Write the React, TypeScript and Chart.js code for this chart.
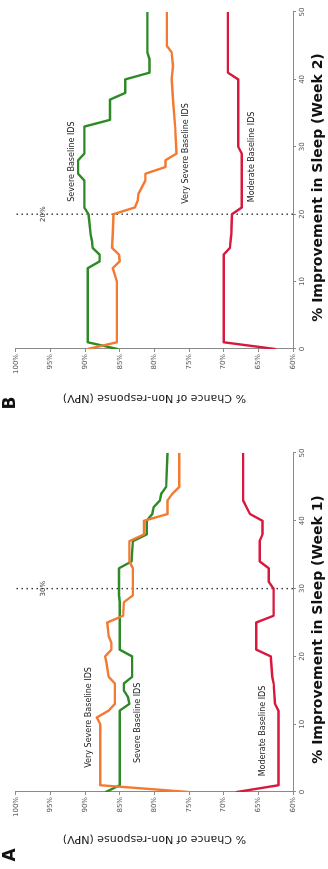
import React, { useEffect, useRef } from "react";
import { Chart, registerables } from "chart.js";

Chart.register(...registerables);

const FONT = "'DejaVu Sans', 'Liberation Sans', sans-serif";

// ---------- shared ----------
const X_TICKS = [0, 10, 20, 30, 40, 50];
const Y_TICKS = [60, 65, 70, 75, 80, 85, 90, 95, 100];
const SERIES_NAMES = ["Very Severe Baseline IDS", "Severe Baseline IDS", "Moderate Baseline IDS"];
const SERIES_COLORS = ["#f47a32", "#2d8a26", "#d9183d"];
const Y_TITLE = "% Chance of Non-response (NPV)";
const CUTOFF_LABEL_Y = 96;

// ---------- panel A (Week 1) ----------
const A_LETTER = "A";
const A_X_TITLE = "% Improvement in Sleep (Week 1)";
const A_CUTOFF = 30;
const A_CUTOFF_LABEL = "30%";
const A_VS_X = [0, 1, 10, 11, 12, 13, 16, 17, 19, 20, 21, 22, 23, 25, 26, 28, 29, 33, 34, 37, 38, 40, 41, 43, 44, 45, 50];
const A_VS_Y = [75.0, 87.8, 87.8, 88.3, 86.6, 85.7, 85.7, 86.6, 86.9, 87.1, 86.2, 86.2, 86.6, 86.8, 84.5, 84.4, 83.1, 83.1, 83.6, 83.6, 81.5, 81.5, 78.1, 78.1, 77.4, 76.4, 76.4];
const A_S_X = [0, 1, 12, 13, 14, 15, 16, 17, 20, 21, 28, 29, 33, 34, 37, 38, 40, 41, 42, 43, 44, 45, 50];
const A_S_Y = [87.0, 85.0, 85.0, 83.6, 83.8, 84.4, 84.4, 83.2, 83.2, 85.0, 85.0, 85.1, 85.1, 83.3, 83.1, 81.1, 81.1, 80.3, 80.1, 79.2, 79.0, 78.3, 78.1];
const A_M_X = [0, 1, 12, 13, 16, 17, 20, 21, 25, 26, 30, 31, 33, 34, 37, 38, 40, 41, 42, 43, 50];
const A_M_Y = [68.1, 62.1, 62.1, 62.6, 62.8, 63.0, 63.2, 65.3, 65.3, 62.8, 62.8, 63.5, 63.5, 64.8, 64.8, 64.4, 64.4, 66.2, 66.7, 67.2, 67.2];
const A_LABEL_X = [11.0, 10.2, 9.0];
const A_LABEL_Y = [89.5, 82.3, 64.4];

// ---------- panel B (Week 2) ----------
const B_LETTER = "B";
const B_X_TITLE = "% Improvement in Sleep (Week 2)";
const B_CUTOFF = 20;
const B_CUTOFF_LABEL = "20%";
const B_VS_X = [0, 1, 10, 11, 12, 13, 14, 15, 17, 20, 21, 22, 23, 25, 26, 27, 28, 29, 33, 37, 40, 42, 44, 45, 50];
const B_VS_Y = [89.6, 85.4, 85.4, 85.7, 86.0, 85.0, 85.1, 86.1, 86.0, 85.9, 82.8, 82.4, 82.3, 81.3, 81.3, 78.4, 78.4, 76.8, 77.0, 77.3, 77.5, 77.3, 77.5, 78.2, 78.2];
const B_S_X = [0, 1, 12, 13, 14, 15, 16, 17, 19, 20, 21, 25, 26, 28, 29, 33, 34, 37, 38, 40, 41, 43, 44, 50];
const B_S_Y = [85.3, 89.6, 89.6, 87.9, 87.9, 88.9, 89.0, 89.2, 89.4, 89.5, 90.1, 90.1, 91.0, 91.0, 90.1, 90.1, 86.4, 86.4, 84.2, 84.2, 80.7, 80.7, 81.0, 81.0];
const B_M_X = [0, 1, 14, 15, 17, 20, 21, 29, 30, 40, 41, 50];
const B_M_Y = [62.6, 70.0, 70.0, 69.1, 68.9, 68.8, 67.4, 67.4, 67.9, 67.9, 69.4, 69.4];
const B_LABEL_X = [29.0, 27.8, 28.5];
const B_LABEL_Y = [75.5, 91.9, 65.9];

type PanelDef = {
  letter: string;
  xTitle: string;
  cutoff: number;
  cutoffLabel: string;
  xs: number[][];
  ys: number[][];
  labelX: number[];
  labelY: number[];
};

const PANEL_A: PanelDef = {
  letter: A_LETTER,
  xTitle: A_X_TITLE,
  cutoff: A_CUTOFF,
  cutoffLabel: A_CUTOFF_LABEL,
  xs: [A_VS_X, A_S_X, A_M_X],
  ys: [A_VS_Y, A_S_Y, A_M_Y],
  labelX: A_LABEL_X,
  labelY: A_LABEL_Y,
};

const PANEL_B: PanelDef = {
  letter: B_LETTER,
  xTitle: B_X_TITLE,
  cutoff: B_CUTOFF,
  cutoffLabel: B_CUTOFF_LABEL,
  xs: [B_VS_X, B_S_X, B_M_X],
  ys: [B_VS_Y, B_S_Y, B_M_Y],
  labelX: B_LABEL_X,
  labelY: B_LABEL_Y,
};

type Layout = {
  width: number;
  height: number;
  left: number;
  right: number;
  top: number;
  bottom: number;
  yTitleDx: number;
  letterDx: number;
};

function Panel({ def, lay }: { def: PanelDef; lay: Layout }) {
  const ref = useRef<HTMLCanvasElement | null>(null);

  useEffect(() => {
    if (!ref.current) return;
    const datasets: any[] = def.xs.map((xs, i) => ({
      label: SERIES_NAMES[i],
      data: xs.map((x, j) => ({ x, y: def.ys[i][j] })),
      borderColor: SERIES_COLORS[i],
      backgroundColor: SERIES_COLORS[i],
      borderWidth: 2.4,
      pointRadius: 0,
      tension: 0,
      borderJoinStyle: "round",
      borderCapStyle: "round",
      fill: false,
    }));
    datasets.push({
      label: "cutoff",
      data: [
        { x: def.cutoff, y: Y_TICKS[0] },
        { x: def.cutoff, y: Y_TICKS[Y_TICKS.length - 1] },
      ],
      borderColor: "#333",
      borderWidth: 1.4,
      borderDash: [1.4, 3.6],
      pointRadius: 0,
      fill: false,
    });

    const textPlugin = {
      id: "panelTexts",
      afterDraw(chart: any) {
        const { ctx, chartArea } = chart;
        const xs = chart.scales.x;
        const ys = chart.scales.y;
        ctx.save();
        ctx.fillStyle = "#222";
        ctx.textAlign = "center";
        ctx.textBaseline = "middle";
        ctx.font = `8px ${FONT}`;
        SERIES_NAMES.forEach((name, i) => {
          ctx.fillText(name, xs.getPixelForValue(def.labelX[i]), ys.getPixelForValue(def.labelY[i]));
        });
        ctx.font = `7px ${FONT}`;
        ctx.fillStyle = "#333";
        ctx.fillText(def.cutoffLabel, xs.getPixelForValue(def.cutoff), ys.getPixelForValue(CUTOFF_LABEL_Y));
        // x title
        ctx.fillStyle = "#111";
        ctx.font = `bold 14px ${FONT}`;
        ctx.fillText(def.xTitle, (chartArea.left + chartArea.right) / 2 - 7, chartArea.bottom + 25);
        // panel letter
        ctx.font = `bold 17px ${FONT}`;
        ctx.fillText(def.letter, chartArea.left + lay.letterDx, 11);
        // y title
        ctx.translate(chartArea.left + lay.yTitleDx, (chartArea.top + chartArea.bottom) / 2);
        ctx.rotate(-Math.PI / 2);
        ctx.font = `11px ${FONT}`;
        ctx.fillStyle = "#1a1a1a";
        ctx.fillText(Y_TITLE, 0, 0);
        ctx.restore();
      },
    };

    const chart = new Chart(ref.current, {
      type: "line",
      data: { datasets },
      plugins: [textPlugin],
      options: {
        responsive: false,
        animation: false,
        events: [],
        layout: {
          padding: { left: 0, top: lay.top, right: lay.width - lay.right, bottom: 0 },
        },
        plugins: {
          legend: { display: false },
          tooltip: { enabled: false },
        },
        scales: {
          x: {
            type: "linear",
            min: X_TICKS[0],
            max: X_TICKS[X_TICKS.length - 1],
            afterBuildTicks: (s: any) => {
              s.ticks = X_TICKS.map((v) => ({ value: v }));
            },
            afterFit: (s: any) => {
              s.height = lay.height - lay.bottom;
            },
            ticks: {
              font: { family: FONT, size: 7 },
              color: "#555",
              padding: 2,
              maxRotation: 0,
              minRotation: 0,
              autoSkip: false,
            },
            grid: { drawOnChartArea: false, drawTicks: true, tickLength: 3, color: "#8a8a8a" },
            border: { display: true, color: "#8a8a8a", width: 1 },
          },
          y: {
            type: "linear",
            min: Y_TICKS[0],
            max: Y_TICKS[Y_TICKS.length - 1],
            afterBuildTicks: (s: any) => {
              s.ticks = Y_TICKS.map((v) => ({ value: v }));
            },
            afterFit: (s: any) => {
              s.width = lay.left;
            },
            ticks: {
              font: { family: FONT, size: 7 },
              color: "#555",
              padding: 2,
              autoSkip: false,
              callback: (v: any) => `${v}%`,
            },
            grid: { drawOnChartArea: false, drawTicks: true, tickLength: 3, color: "#8a8a8a" },
            border: { display: true, color: "#8a8a8a", width: 1 },
          },
        },
      } as any,
    });
    return () => chart.destroy();
  }, [def, lay]);

  return (
    <canvas
      ref={ref}
      width={lay.width}
      height={lay.height}
      style={{ display: "block", width: lay.width, height: lay.height }}
    />
  );
}

const LAYOUT_A: Layout = { width: 434, height: 328, left: 77, right: 416, top: 15.7, bottom: 293, yTitleDx: -47, letterDx: -63 };
const LAYOUT_B: Layout = { width: 435, height: 328, left: 86, right: 423, top: 15.7, bottom: 293, yTitleDx: -49, letterDx: -54 };

export default function App() {
  return (
    <div style={{ position: "absolute", left: 0, top: 0, width: 328, height: 869, overflow: "hidden", background: "#fff" }}>
      <div
        style={{
          position: "absolute",
          left: 0,
          top: 0,
          width: 869,
          height: 328,
          display: "flex",
          transformOrigin: "0 0",
          transform: "translateY(869px) rotate(-90deg)",
        }}
      >
        <Panel def={PANEL_A} lay={LAYOUT_A} />
        <Panel def={PANEL_B} lay={LAYOUT_B} />
      </div>
    </div>
  );
}
